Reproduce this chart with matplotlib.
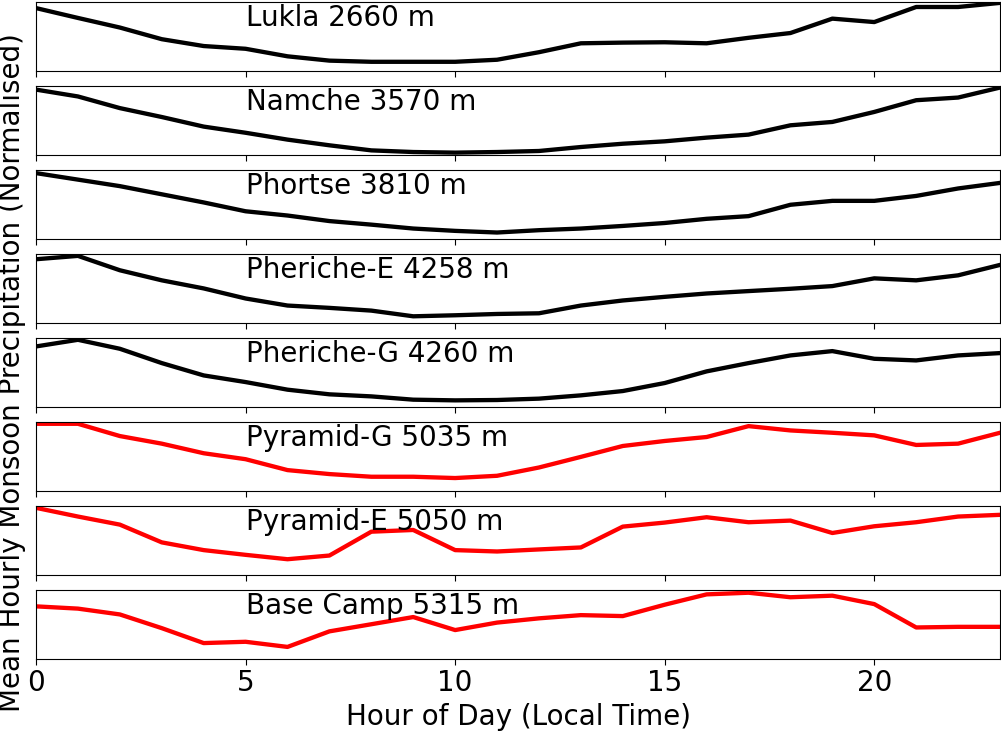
import matplotlib
matplotlib.use("Agg")
import matplotlib.pyplot as plt
import matplotlib.transforms as mtransforms

hours = list(range(24))

stations = ["Lukla 2660 m", "Namche 3570 m", "Phortse 3810 m", "Pheriche-E 4258 m",
            "Pheriche-G 4260 m", "Pyramid-G 5035 m", "Pyramid-E 5050 m", "Base Camp 5315 m"]
colors = ["k", "k", "k", "k", "k", "r", "r", "r"]

lukla = [0.914, 0.77, 0.63, 0.46, 0.36, 0.32, 0.21, 0.147, 0.13, 0.13, 0.13, 0.16,
         0.27, 0.40, 0.41, 0.415, 0.40, 0.48, 0.55, 0.76, 0.71, 0.93, 0.93, 0.99]
namche = [0.95, 0.85, 0.68, 0.55, 0.41, 0.32, 0.22, 0.137, 0.063, 0.039, 0.03, 0.039,
          0.054, 0.112, 0.16, 0.195, 0.249, 0.293, 0.429, 0.478, 0.624, 0.795, 0.834, 0.98]
phortse = [0.957, 0.862, 0.767, 0.648, 0.529, 0.40, 0.338, 0.257, 0.205, 0.148, 0.114, 0.09,
           0.124, 0.148, 0.186, 0.229, 0.29, 0.329, 0.495, 0.552, 0.552, 0.624, 0.733, 0.814]
pheriche_e = [0.926, 0.975, 0.765, 0.618, 0.50, 0.353, 0.25, 0.216, 0.176, 0.093, 0.108, 0.127,
              0.137, 0.25, 0.324, 0.377, 0.426, 0.461, 0.495, 0.534, 0.647, 0.618, 0.691, 0.843]
pheriche_g = [0.879, 0.976, 0.845, 0.636, 0.456, 0.359, 0.248, 0.180, 0.150, 0.102, 0.092, 0.097,
              0.117, 0.165, 0.228, 0.345, 0.515, 0.636, 0.748, 0.811, 0.699, 0.675, 0.748, 0.782]
pyramid_g = [0.976, 0.976, 0.797, 0.686, 0.546, 0.459, 0.300, 0.242, 0.203, 0.203, 0.184, 0.217,
             0.338, 0.493, 0.652, 0.725, 0.783, 0.942, 0.879, 0.845, 0.807, 0.667, 0.686, 0.845]
pyramid_e = [0.975, 0.848, 0.73, 0.471, 0.358, 0.289, 0.225, 0.279, 0.627, 0.652, 0.358, 0.338,
             0.368, 0.397, 0.701, 0.760, 0.838, 0.765, 0.789, 0.608, 0.706, 0.765, 0.848, 0.873]
base_camp = [0.763, 0.730, 0.645, 0.445, 0.227, 0.246, 0.171, 0.398, 0.502, 0.607, 0.417, 0.526,
             0.588, 0.635, 0.621, 0.787, 0.938, 0.962, 0.896, 0.919, 0.796, 0.455, 0.464, 0.464]

series = [lukla, namche, phortse, pheriche_e, pheriche_g, pyramid_g, pyramid_e, base_camp]

xticks = [0, 5, 10, 15, 20]

plt.rcParams['font.family'] = ['DejaVu Sans']
fig, axes = plt.subplots(8, 1, sharex=True, figsize=(10.01, 7.31), dpi=100)
fig.subplots_adjust(left=0.036, right=0.999, top=0.997, bottom=0.099, hspace=0.226)

for ax, name, vals, c in zip(axes, stations, series, colors):
    ax.plot(hours, vals, color=c, lw=3.1)
    ax.set_xlim(0, 23)
    ax.set_ylim(0, 1)
    ax.set_yticks([])
    trans = mtransforms.blended_transform_factory(ax.transData, ax.transAxes)
    ax.text(5, 0.77, name, transform=trans, fontsize=20, va='center', ha='left')
    ax.tick_params(axis='x', labelsize=20, length=4)

axes[-1].set_xticks(xticks)
axes[-1].set_xticklabels([str(t) for t in xticks])
axes[-1].set_xlabel("Hour of Day (Local Time)", fontsize=20, labelpad=4)
fig.text(0.012, 0.491, "Mean Hourly Monsoon Precipitation (Normalised)", rotation=90,
         fontsize=20, va='center', ha='center')

fig.savefig("out.png", dpi=100)
